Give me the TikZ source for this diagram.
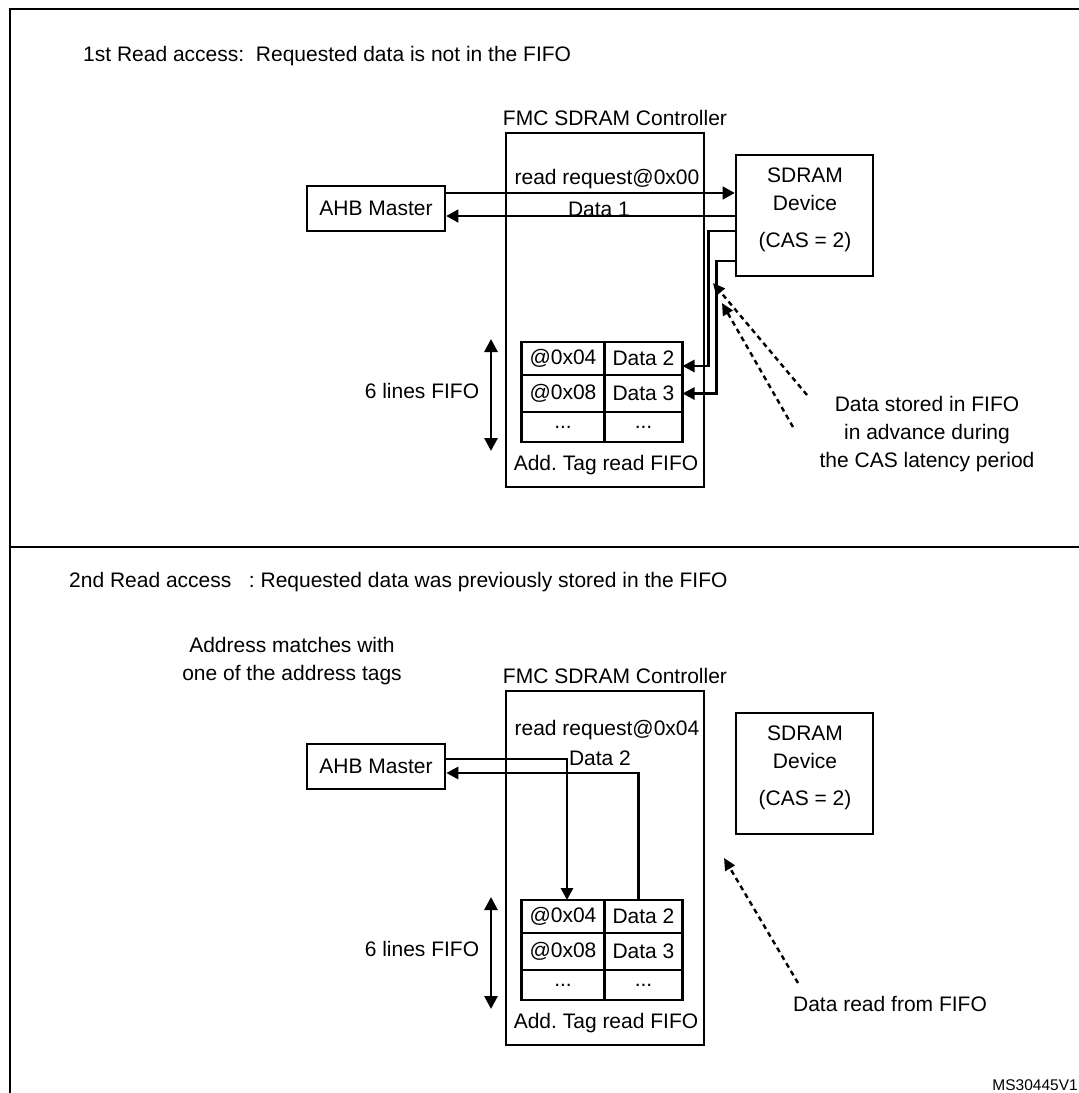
\documentclass[tikz,border=0pt]{standalone}
\usepackage{fontspec}
\setmainfont{Liberation Sans}
\usetikzlibrary{arrows.meta,matrix}
\frenchspacing
\tikzstyle{box}=[draw,line width=2.6pt,inner sep=0pt]
\tikzstyle{txt}=[inner sep=0pt]
\tikzstyle{thin signal}=[draw,line width=1.5pt,-{Triangle[length=12pt,width=13pt]}]
\tikzstyle{thick signal}=[draw,line width=2.8pt,-{Triangle[length=12pt,width=12pt]}]
\tikzstyle{span}=[draw,line width=2.8pt,{Triangle[length=13pt,width=13pt]}-{Triangle[length=13pt,width=13pt]}]
\tikzstyle{hint}=[draw,line width=2.4pt,dash pattern=on 5pt off 4pt,-{Triangle[length=12pt,width=11pt]}]

\begin{document}
\begin{tikzpicture}[x=1pt,y=-1pt,font=\fontsize{21}{28}\selectfont]
    \useasboundingbox (0,0) rectangle (1079,1093);

    % Frame
    \draw[line width=2.6pt] (1090,9) -- (10,9) -- (10,1100);
    \draw[line width=2.6pt] (10,547) -- (1090,547);

    % Headers
    \node[txt,anchor=west] (head1) at (83,56) {1st Read access:~ Requested data is not in the FIFO};
    \node[txt,anchor=west] (head2) at (69,582) {2nd Read access~~~: Requested data was previously stored in the FIFO};

    % Blocks of both panels
    \foreach \p/\dy in {a/0, b/558} {
        \node[txt] (ctrltitle\p) at (615,118+\dy) {FMC SDRAM Controller};
        \node[box,minimum width=198pt,minimum height=354pt] (ctrl\p) at (605,310+\dy) {};
        \node[box,minimum width=138pt,minimum height=45pt] (ahb\p) at (376,208.5+\dy) {AHB Master};
        \node[box,minimum width=137pt,minimum height=121pt] (sdram\p) at (804.5,215.5+\dy) {};
        \node[txt,align=center] (sdramtxt\p) at (805,210+\dy) {SDRAM\\Device\\[9pt](CAS = 2)};

        % Tag FIFO
        \matrix (fifo\p) [matrix of nodes, ampersand replacement=\&, anchor=center,
            nodes={draw,line width=2.6pt,inner sep=0pt,outer sep=0pt,anchor=center},
            column sep=-2.6pt, row sep=-2.6pt,
            column 1/.style={nodes={minimum width=83pt}},
            column 2/.style={nodes={minimum width=78pt}},
            row 1/.style={nodes={minimum height=33pt}},
            row 2/.style={nodes={minimum height=37pt}},
            row 3/.style={nodes={minimum height=30pt}}] at (602,392+\dy)
            { @0x04 \& Data 2 \\ @0x08 \& Data 3 \\ ... \& ... \\ };
        \node[txt] (fifotitle\p) at (606,465+\dy) {Add.\ Tag read FIFO};

        % FIFO depth
        \node[txt] (depth\p) at (422,391+\dy) {6 lines FIFO};
        \coordinate (depthtop\p) at (491,339+\dy);
        \coordinate (depthbot\p) at (491,451+\dy);
        \path[span] (depthtop\p) -- (depthbot\p);
    }

    % 1st access: request and answer
    \node[txt] (reqa) at (607,179) {read request@0x00};
    \node[txt] (data1) at (599,209) {Data 1};
    \path[thin signal] ([yshift=15.5pt]ahba.east) -- ([yshift=15.5pt]ahba.east -| sdrama.west);
    \path[thin signal] ([yshift=-7.5pt]ahba.east -| sdrama.west) -- ([yshift=-7.5pt]ahba.east);

    % 1st access: SDRAM fills the FIFO
    \path[thick signal] ([yshift=-15.5pt]sdrama.west) -- ++(-26,0) |- ([yshift=-7.5pt]fifoa-1-2.east);
    \path[thick signal] ([yshift=-45.5pt]sdrama.west) -- ++(-18,0) |- (fifoa-2-2.east);

    \coordinate (hintstart1) at (807,395);
    \coordinate (hinttip1) at (713,283);
    \coordinate (hintstart2) at (793,427);
    \coordinate (hinttip2) at (722,303);
    \path[hint] (hintstart1) -- (hinttip1);
    \path[hint] (hintstart2) -- (hinttip2);
    \node[txt,align=center] (storednote) at (927,434) {Data stored in FIFO\\in advance during\\the CAS latency period};

    % 2nd access: hit in the FIFO
    \node[txt,align=center] (matchnote) at (292,661) {Address matches with\\one of the address tags};
    \node[txt] (reqb) at (607,730) {read request@0x04};
    \node[txt] (data2) at (600,758) {Data 2};
    \path[thick signal] ([yshift=7.5pt]ahbb.east) -| ([xshift=4pt]fifob-1-1.north);
    \path[thick signal] ([xshift=-5pt]fifob-1-2.north) |- ([yshift=-6.5pt]ahbb.east);

    \coordinate (hintstart3) at (798,983);
    \coordinate (hinttip3) at (724,858);
    \path[hint] (hintstart3) -- (hinttip3);
    \node[txt] (readnote) at (890,1004) {Data read from FIFO};

    \node[txt,anchor=east,font=\fontsize{15.5}{18}\selectfont] (docid) at (1078,1085) {MS30445V1};
\end{tikzpicture}
\end{document}
